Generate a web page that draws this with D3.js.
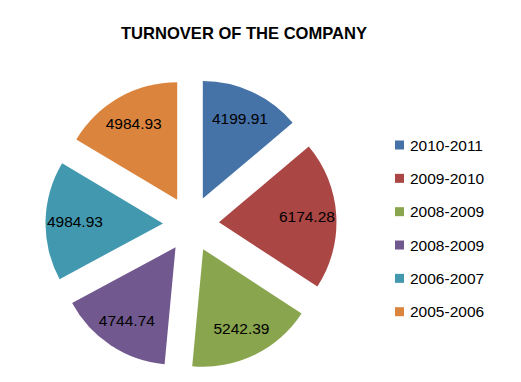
<!DOCTYPE html>
<html>
<head>
<meta charset="utf-8">
<script src="https://cdn.jsdelivr.net/npm/d3@7"></script>
<style>
  body { margin: 0; background: #fff; }
  text { font-family: "Liberation Sans", Arial, sans-serif; }
</style>
</head>
<body>
<script>
var width = 521,
    height = 382,
    radius = 117.5,
    explode = 28;

var periods = ["2010-2011", "2009-2010", "2008-2009", "2008-2009", "2006-2007", "2005-2006"];
var turnover = [4199.91, 6174.28, 5242.39, 4744.74, 4984.93, 4984.93];
var colors = ["#4572A7", "#AA4643", "#89A54E", "#71588F", "#4198AF", "#DB843D"];

var svg = d3.select("body").append("svg")
    .attr("width", width)
    .attr("height", height);

svg.append("text")
    .attr("x", 244)
    .attr("y", 39)
    .attr("text-anchor", "middle")
    .attr("font-weight", "bold")
    .attr("font-size", 17)
    .attr("textLength", 246)
    .attr("lengthAdjust", "spacingAndGlyphs")
    .text("TURNOVER OF THE COMPANY");

var pie = d3.pie().sort(null).value(function(d) { return d; });
var arc = d3.arc().innerRadius(0).outerRadius(radius);

var g = svg.append("g")
    .attr("transform", "translate(" + [191, 224] + ")");

var slices = g.selectAll("g")
    .data(pie(turnover))
    .enter().append("g")
    .attr("transform", function(d) {
        var a = (d.startAngle + d.endAngle) / 2;
        return "translate(" + [explode * Math.sin(a), -explode * Math.cos(a)] + ")";
    });

slices.append("path")
    .attr("d", arc)
    .attr("fill", function(d, i) { return colors[i]; });

slices.append("text")
    .attr("transform", function(d) {
        var a = (d.startAngle + d.endAngle) / 2,
            r = radius * 0.75;
        return "translate(" + [r * Math.sin(a), -r * Math.cos(a)] + ")";
    })
    .attr("text-anchor", "middle")
    .attr("dy", "0.36em")
    .attr("font-size", 15.5)
    .attr("fill", "#000")
    .text(function(d) { return d.data.toFixed(2); });

var y = d3.scalePoint()
    .domain(d3.range(periods.length))
    .range([145, 311.7]);

var legend = svg.selectAll(".legend")
    .data(periods)
    .enter().append("g")
    .attr("class", "legend")
    .attr("transform", function(d, i) { return "translate(" + [395, y(i)] + ")"; });

legend.append("rect")
    .attr("x", 0)
    .attr("y", -4.5)
    .attr("width", 9)
    .attr("height", 9)
    .attr("fill", function(d, i) { return colors[i]; });

legend.append("text")
    .attr("x", 15)
    .attr("dy", "0.36em")
    .attr("font-size", 15.5)
    .text(function(d) { return d; });
</script>
</body>
</html>
